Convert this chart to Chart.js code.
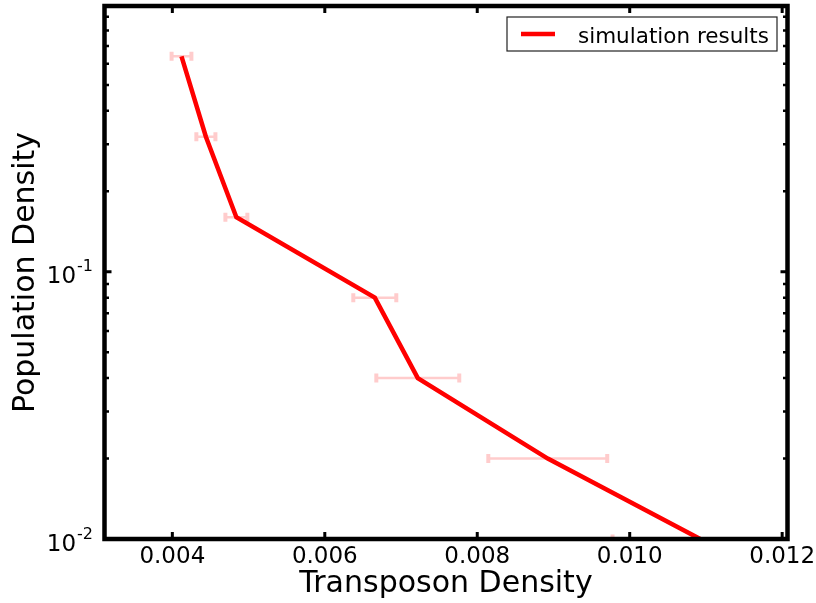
<!DOCTYPE html>
<html>
<head>
<meta charset="utf-8">
<script src="https://cdn.jsdelivr.net/npm/chart.js@4.4.0/dist/chart.umd.min.js"></script>
<style>
  html, body { margin: 0; padding: 0; background: #fff; }
  canvas { display: block; }
</style>
</head>
<body>
<canvas id="grafica" width="816" height="603"></canvas>
<script>
// datos
const transposon = [0.00412, 0.00444, 0.00484, 0.006656, 0.00722, 0.008925, 0.010925];
const poblacion = [0.64, 0.32, 0.16, 0.08, 0.04, 0.02, 0.01];
const errorX = [0.00013, 0.000125, 0.000144, 0.000282, 0.000544, 0.00078, 0.00115];

const xTicks = [0.004, 0.006, 0.008, 0.010, 0.012];
const xTickLabels = ["0.004", "0.006", "0.008", "0.010", "0.012"];
const yMajor = [0.01, 0.1];
const yMajorExp = ["-2", "-1"];
const yMinor = [0.02, 0.03, 0.04, 0.05, 0.06, 0.07, 0.08, 0.09,
                0.2, 0.3, 0.4, 0.5, 0.6, 0.7, 0.8, 0.9];

const FONT = "'DejaVu Sans', sans-serif";

const errorBars = {
  id: "errorBars",
  beforeDatasetsDraw(chart) {
    const { ctx, chartArea: a, scales: { x, y } } = chart;
    ctx.save();
    ctx.beginPath();
    ctx.rect(a.left, a.top, a.right - a.left, a.bottom - a.top);
    ctx.clip();
    ctx.strokeStyle = "#ffcccc";
    transposon.forEach((v, i) => {
      const py = y.getPixelForValue(poblacion[i]);
      const x0 = x.getPixelForValue(v - errorX[i]);
      const x1 = x.getPixelForValue(v + errorX[i]);
      ctx.lineWidth = 2.5;
      ctx.beginPath();
      ctx.moveTo(x0, py);
      ctx.lineTo(x1, py);
      ctx.stroke();
      ctx.lineWidth = 4;
      ctx.beginPath();
      ctx.moveTo(x0, py - 4.5); ctx.lineTo(x0, py + 4.5);
      ctx.moveTo(x1, py - 4.5); ctx.lineTo(x1, py + 4.5);
      ctx.stroke();
    });
    ctx.restore();
  }
};

const ejes = {
  id: "ejes",
  afterDraw(chart) {
    const { ctx, chartArea: a, scales: { x, y } } = chart;
    ctx.save();
    ctx.strokeStyle = "#000";
    ctx.fillStyle = "#000";

    // ticks hacia dentro
    ctx.lineWidth = 3;
    xTicks.forEach(v => {
      const px = x.getPixelForValue(v);
      ctx.beginPath();
      ctx.moveTo(px, a.bottom); ctx.lineTo(px, a.bottom - 7);
      ctx.moveTo(px, a.top); ctx.lineTo(px, a.top + 7);
      ctx.stroke();
    });
    yMajor.forEach(v => {
      const py = y.getPixelForValue(v);
      ctx.beginPath();
      ctx.moveTo(a.left, py); ctx.lineTo(a.left + 7, py);
      ctx.moveTo(a.right, py); ctx.lineTo(a.right - 7, py);
      ctx.stroke();
    });
    ctx.lineWidth = 2.5;
    yMinor.forEach(v => {
      const py = y.getPixelForValue(v);
      ctx.beginPath();
      ctx.moveTo(a.left, py); ctx.lineTo(a.left + 4.5, py);
      ctx.moveTo(a.right, py); ctx.lineTo(a.right - 4.5, py);
      ctx.stroke();
    });

    // marco
    ctx.lineWidth = 4.5;
    ctx.strokeRect(a.left, a.top, a.right - a.left, a.bottom - a.top);

    // etiquetas eje x
    ctx.font = "23px " + FONT;
    ctx.textAlign = "center";
    ctx.textBaseline = "alphabetic";
    xTicks.forEach((v, i) => {
      ctx.fillText(xTickLabels[i], x.getPixelForValue(v), 563);
    });

    // etiquetas eje y (10^n)
    yMajor.forEach((v, i) => {
      const py = y.getPixelForValue(v);
      ctx.font = "16px " + FONT;
      const wSup = ctx.measureText(yMajorExp[i]).width;
      ctx.textAlign = "left";
      ctx.fillText(yMajorExp[i], a.left - 11.5 - wSup, py - 0.5);
      ctx.font = "23px " + FONT;
      ctx.textAlign = "right";
      ctx.fillText("10", a.left - 12.5 - wSup, py + 11.5);
    });

    // titulos
    ctx.font = "30px " + FONT;
    ctx.textAlign = "center";
    ctx.fillText("Transposon Density", (a.left + a.right) / 2, 592);
    ctx.save();
    ctx.translate(34, (a.top + a.bottom) / 2);
    ctx.rotate(-Math.PI / 2);
    ctx.fillText("Population Density", 0, 0);
    ctx.restore();

    // leyenda
    ctx.fillStyle = "#fff";
    ctx.fillRect(507, 17, 270, 34);
    ctx.lineWidth = 1.2;
    ctx.strokeStyle = "#222";
    ctx.strokeRect(507, 17, 270, 34);
    ctx.strokeStyle = "#ff0000";
    ctx.lineWidth = 4.5;
    ctx.beginPath();
    ctx.moveTo(521, 34); ctx.lineTo(555, 34);
    ctx.stroke();
    ctx.fillStyle = "#000";
    ctx.font = "21.5px " + FONT;
    ctx.textAlign = "left";
    ctx.fillText("simulation results", 578, 42.5);
    ctx.restore();
  }
};

const ctx = document.getElementById("grafica");
const chart = new Chart(ctx, {
  type: "scatter",
  data: {
    datasets: [{
      label: "simulation results",
      data: transposon.map((v, i) => ({ x: v, y: poblacion[i] })),
      showLine: true,
      borderColor: "#ff0000",
      backgroundColor: "#ff0000",
      borderWidth: 4.5,
      pointRadius: 0,
      tension: 0,
      fill: false
    }]
  },
  options: {
    responsive: false,
    animation: false,
    devicePixelRatio: 1,
    layout: { padding: { left: 0, top: 6, right: 28.5, bottom: 0 } },
    plugins: { legend: { display: false }, tooltip: { enabled: false } },
    scales: {
      x: {
        type: "linear",
        min: 0.00311,
        max: 0.01207,
        grid: { display: false, drawTicks: false },
        border: { display: false },
        ticks: { display: false },
        afterFit: s => { s.height = 64; }
      },
      y: {
        type: "logarithmic",
        min: 0.01,
        max: 0.987,
        grid: { display: false, drawTicks: false },
        border: { display: false },
        ticks: { display: false },
        afterFit: s => { s.width = 104.5; }
      }
    }
  },
  plugins: [errorBars, ejes]
});
</script>
</body>
</html>
